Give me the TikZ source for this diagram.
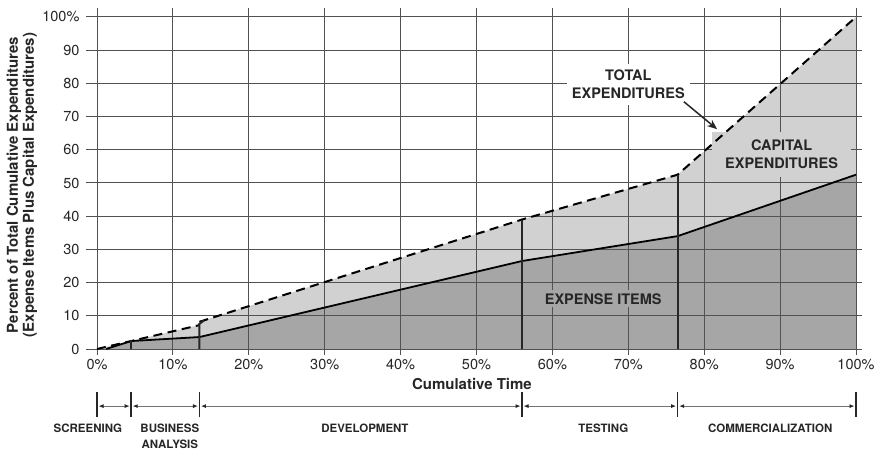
\documentclass[tikz,border=0pt]{standalone}
\usepackage{fontspec}
\setmainfont{TeX Gyre Heros}
\usetikzlibrary{arrows.meta}

\tikzset{
  gridline/.style={black!68,line width=1pt},
  tick/.style={font=\fontsize{14.5}{16}\selectfont,text=black!85},
  lbl/.style={font=\fontsize{14.5}{18}\selectfont\bfseries,align=center,text=black!85},
  phase/.style={font=\fontsize{11.5}{16}\selectfont\bfseries,align=center,text=black!85},
  bar/.style={line width=2pt,black!85},
  span/.style={black!55,line width=0.9pt,{Latex[black!85,length=5pt,width=4pt]}-{Latex[black!85,length=5pt,width=4pt]},shorten <=1.5pt,shorten >=1.5pt}
}

\begin{document}
\begin{tikzpicture}[x=7.59pt,y=3.32pt]
\useasboundingbox (-97pt,-101pt) rectangle (781pt,349pt);

% expense items and capital expenditures
\fill[black!35] (1.2,0) -- (4.5,2.4) -- (13.5,3.6) -- (56,26.5) -- (76.5,34) -- (100,52.5) -- (100,0) -- cycle;
\fill[black!18] (0,0) -- (13.5,7.2) -- (13.5,8.2) -- (56,39) -- (76.5,52.5) -- (100,100) -- (100,52.5)
  -- (76.5,34) -- (56,26.5) -- (13.5,3.6) -- (4.5,2.4) -- (1.2,0) -- cycle;

% grid and ticks
\foreach \x in {0,10,...,100}{
  \draw[gridline] (\x,-1.8) -- (\x,102.7);
  \node[tick] (xt\x) at (\x,-4.8) {\x\%};
}
\foreach \y in {0,10,...,90}{
  \draw[gridline] (-1.45,\y) -- (100.8,\y);
  \node[tick,anchor=east] (yt\y) at (-1.85,\y) {\y};
}
\draw[gridline] (-1.45,100) -- (100.8,100);
\node[tick,anchor=east] (yt100) at (-1.85,100) {100\%};

% labels in the chart
\node[lbl,fill=white,inner xsep=5pt,inner ysep=6pt] (total) at (70,79.8) {TOTAL\\EXPENDITURES};
\node[lbl,fill=black!18,inner xsep=13pt,inner ysep=8pt] (capital) at (90.2,58.7) {CAPITAL\\EXPENDITURES};
\node[lbl,fill=black!35,inner sep=3pt] (expense) at (66.7,15.1) {EXPENSE ITEMS};

% curves
\draw[line width=2pt,dash pattern=on 9pt off 5.5pt] (0,0) -- (13.5,7.2) (13.5,8.2) -- (56,39) -- (76.5,52.5) -- (100,100);
\draw[line width=1.8pt] (1.2,0) -- (4.5,2.4) -- (13.5,3.6) -- (56,26.5) -- (76.5,34) -- (100,52.5);
\foreach \t/\h in {4.5/2.7,56/39,76.5/52.5}
  \draw[bar] (\t,0) -- (\t,\h);
\draw[bar] (13.5,0) -- (13.5,7.6) -- (14.1,8.6);

\coordinate (totaltip) at (81.7,66.2);
\draw[black!85,line width=1.5pt,-{Stealth[length=10pt,width=8pt]}] (total.south east) ++(-6pt,3pt) -- (totaltip);

% axis titles
\node[lbl,font=\fontsize{15}{18}\selectfont\bfseries] (time) at (49.4,-10.5) {Cumulative Time};
\node[lbl,rotate=90,font=\fontsize{15}{16}\selectfont\bfseries] (ytitle) at (-9.9,49.4)
  {Percent of Total Cumulative Expenditures\\(Expense Items Plus Capital Expenditures)};

% phases
\foreach \t [count=\i] in {0,4.5,13.5,56,76.5,100}{
  \draw[bar,line width=1.4pt] (\t,-12.9) -- (\t,-20.5);
  \coordinate (p\i) at (\t,-17.2);
}
\draw[span] (p1) -- (p2);
\draw[span] (p2) -- (p3);
\draw[span] (p3) -- (p4);
\draw[span] (p4) -- (p5);
\draw[span] (p5) -- (p6);
\node[phase] (screening) at (-1.2,-23.8) {SCREENING};
\node[phase] (business) at (9.6,-26.2) {BUSINESS\\ANALYSIS};
\node[phase] (development) at (35.3,-23.8) {DEVELOPMENT};
\node[phase] (testing) at (66.7,-23.8) {TESTING};
\node[phase] (commercial) at (88.7,-23.8) {COMMERCIALIZATION};
\end{tikzpicture}
\end{document}
